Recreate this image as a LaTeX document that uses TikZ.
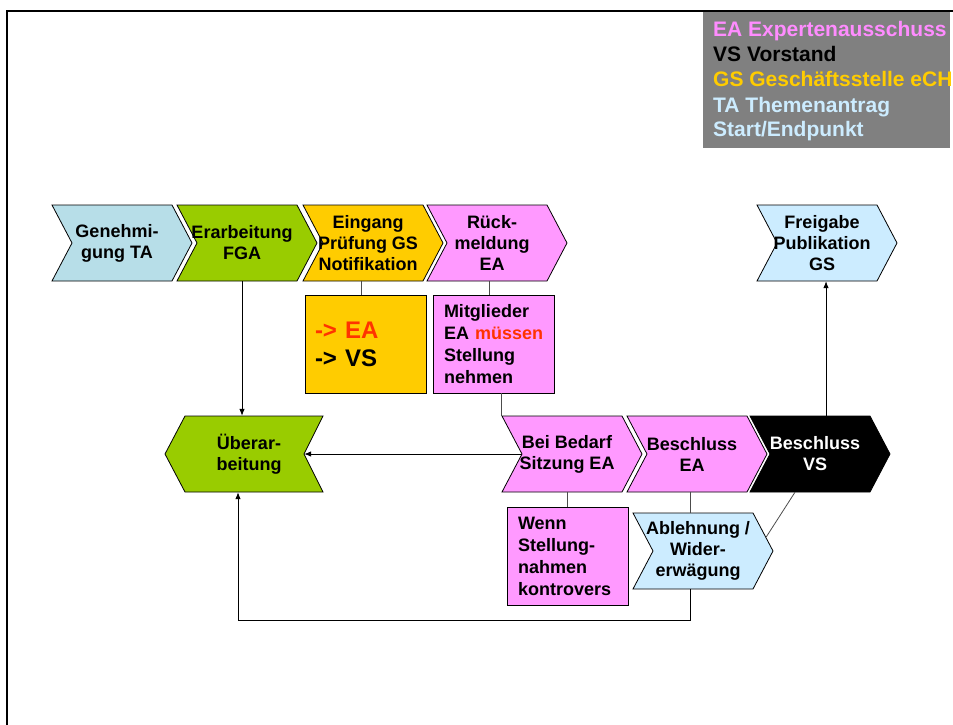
\documentclass[tikz,border=0pt]{standalone}
\usepackage{fontspec}
\setmainfont{Liberation Sans}
\usetikzlibrary{calc,arrows.meta}
\definecolor{cTeal}{HTML}{B7DEE8}
\definecolor{cGreen}{HTML}{99CC00}
\definecolor{cGold}{HTML}{FFCC00}
\definecolor{cPink}{HTML}{FF99FF}
\definecolor{cLight}{HTML}{CCECFF}
\definecolor{cRed}{HTML}{FF3300}
\definecolor{cGrey}{HTML}{808080}
\definecolor{cLegPink}{HTML}{FF8CFF}
\tikzset{
  chev/.style={draw=black, line width=0.8pt, line join=miter},
  chevtext/.style={align=center, font=\fontsize{18}{21}\selectfont\bfseries,
    minimum width=130pt, minimum height=76pt, inner sep=0pt},
  boxstyle/.style={draw=black, line width=0.8pt, minimum width=121pt,
    minimum height=98pt, inner ysep=0pt, align=left},
  conn/.style={draw=black!70, line width=0.8pt},
  arr/.style={draw=black, line width=0.8pt, -{Latex[length=7pt,width=5.5pt]}},
  legtext/.style={anchor=base west, font=\fontsize{21}{25}\selectfont\bfseries, inner sep=0pt},
}
% name, left x, top y, fill, text colour, text
\newcommand{\chevR}[6]{%
  \path[chev, fill=#4] (#2,#3) -- ++(120,0) -- ++(20,38) -- ++(-20,38) -- ++(-120,0) -- ++(20,-38) -- cycle;
  \node[chevtext, text=#5] (#1) at (#2+65,#3+38) {#6};}
\begin{document}
\begin{tikzpicture}[x=1pt,y=-1pt]
\useasboundingbox (0,0) rectangle (953,725);
\clip (0,0) rectangle (953,725);
% frame
\draw[line width=2pt] (7,730) -- (7,11) -- (960,11);
% legend
\begin{scope}
\clip (703,12) rectangle (950,148);
\fill[cGrey] (703,12) rectangle (950,148);
\node[legtext, text=cLegPink] (legEA) at (713,37) {EA Expertenausschuss};
\node[legtext, text=black] (legVS) at (713,62) {VS Vorstand};
\node[legtext, text=cGold] (legGS) at (713,87) {GS Geschäftsstelle eCH};
\node[legtext, text=cLight] (legTA) at (713,112) {TA Themenantrag};
\node[legtext, text=cLight] (legSE) at (713,136) {Start/Endpunkt};
\end{scope}
% top row
\chevR{gen}{52}{205}{cTeal}{black}{Genehmi-\\gung TA}
\chevR{erarb}{177}{205}{cGreen}{black}{Erarbeitung\\FGA}
\chevR{ein}{303}{205}{cGold}{black}{Eingang\\Prüfung GS\\Notifikation}
\chevR{rue}{427}{205}{cPink}{black}{Rück-\\meldung\\EA}
\chevR{frei}{757}{205}{cLight}{black}{Freigabe\\Publikation\\GS}
% boxes
\node[boxstyle, fill=cGold, text width=101pt, inner xsep=10pt,
  font=\fontsize{24}{28}\selectfont\bfseries] (ybox) at (365.5,344)
  {{\color{cRed}-> EA}\\-> VS};
\node[boxstyle, fill=cPink, text width=99pt, inner xsep=11pt,
  font=\fontsize{18}{22}\selectfont\bfseries] (mit) at (493.5,344)
  {Mitglieder\\EA~{\color{cRed}müssen}\\Stellung\\nehmen};
% second row
\path[chev, fill=cGreen] (185,416) -- (323,416) -- (304,454) -- (323,492) -- (185,492) -- (165,454) -- cycle;
\node[chevtext, minimum width=140pt] (ueber) at (249,454) {Überar-\\beitung};
\chevR{bei}{502}{416}{cPink}{black}{Bei Bedarf\\Sitzung EA}
\chevR{bea}{627}{416}{cPink}{black}{Beschluss\\EA}
\chevR{vs}{750}{416}{black}{white}{Beschluss\\VS}
\node[boxstyle, fill=cPink, text width=99pt, inner xsep=11pt,
  font=\fontsize{18}{22}\selectfont\bfseries] (wenn) at (567.5,556)
  {Wenn\\Stellung-\\nahmen\\kontrovers};
\chevR{abl}{633}{513}{cLight}{black}{Ablehnung /\\Wider-\\erwägung}
% connectors
\draw[conn] ([xshift=-7pt]ein.south) -- ([xshift=-7pt]ein.south |- ybox.north);
\draw[conn] ([xshift=-3pt]rue.south) -- ([xshift=-3pt]rue.south |- mit.north);
\draw[conn] (mit.south -| bei.north west) -- (bei.north west);
\draw[conn] (bei.south) -- (bei.south |- wenn.north);
\draw[conn] ([xshift=-2pt]bea.south) -- ([xshift=-2pt]bea.south |- abl.north);
\draw[conn] ([xshift=-20pt]vs.south) -- ($(abl.east)+(3,-14)$);
\draw[arr] (erarb.south) -- (erarb.south |- ueber.north);
\draw[arr] ([xshift=20pt]bei.west) -- ([xshift=-15pt]ueber.east);
\draw[arr] ([xshift=-8pt]abl.south) -- ++(0,31) -| ([xshift=-11pt]ueber.south);
\draw[arr] ([xshift=11pt]vs.north) -- ([xshift=11pt]vs.north |- frei.south);
\end{tikzpicture}
\end{document}
